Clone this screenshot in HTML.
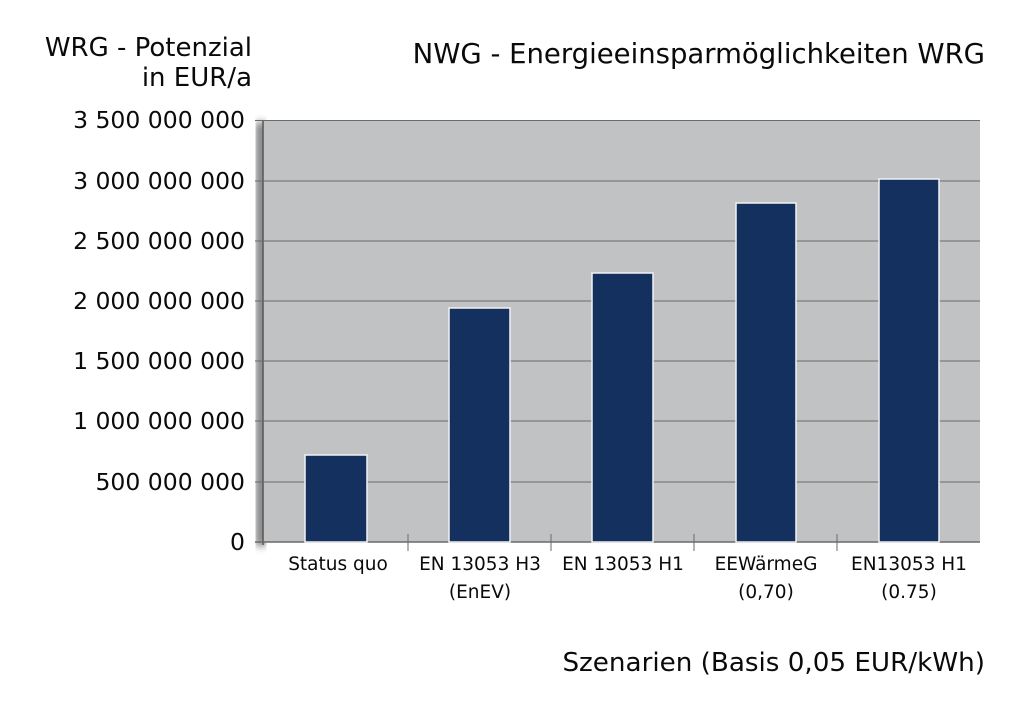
<!DOCTYPE html>
<html><head><meta charset="utf-8"><style>
body{margin:0;background:#fff;}
svg text{font-family:"DejaVu Sans","Liberation Sans",sans-serif;fill:#0a0a0a;}
</style></head><body>
<svg width="1024" height="708" xmlns="http://www.w3.org/2000/svg">
<defs><filter id="sh" x="-5%" y="-5%" width="110%" height="110%"><feGaussianBlur stdDeviation="4"/></filter></defs>
<rect x="256" y="122" width="10" height="424" fill="#777" filter="url(#sh)"/>
<rect x="263" y="120" width="717" height="422" fill="#c1c2c4"/>
<line x1="263" y1="120" x2="263" y2="545" stroke="#555" stroke-width="1.5"/>
<g stroke="#6a6a6a" stroke-width="1">
<line x1="255" y1="120.5" x2="980" y2="120.5"/>
<line x1="255" y1="181" x2="980" y2="181"/>
<line x1="255" y1="241" x2="980" y2="241"/>
<line x1="255" y1="301" x2="980" y2="301"/>
<line x1="255" y1="361" x2="980" y2="361"/>
<line x1="255" y1="421" x2="980" y2="421"/>
<line x1="255" y1="482" x2="980" y2="482"/>
<line x1="255" y1="542" x2="980" y2="542" stroke-width="1.5"/>
<line x1="408" y1="534" x2="408" y2="551"/>
<line x1="551" y1="534" x2="551" y2="551"/>
<line x1="694" y1="534" x2="694" y2="551"/>
<line x1="837" y1="534" x2="837" y2="551"/>
</g>
<g fill="#14305f" stroke="#f2f2f2" stroke-width="1.5">
<rect x="305" y="455" width="62" height="87"/>
<rect x="449" y="308" width="61" height="234"/>
<rect x="592" y="273" width="61" height="269"/>
<rect x="736" y="203" width="60" height="339"/>
<rect x="879" y="179" width="60" height="363"/>
</g>
<g font-size="23.5" text-anchor="end">
<text x="245" y="128">3 500 000 000</text>
<text x="245" y="189">3 000 000 000</text>
<text x="245" y="249">2 500 000 000</text>
<text x="245" y="309">2 000 000 000</text>
<text x="245" y="369">1 500 000 000</text>
<text x="245" y="429">1 000 000 000</text>
<text x="245" y="490">500 000 000</text>
<text x="245" y="550">0</text>
<text x="252" y="56" font-size="26">WRG - Potenzial</text>
<text x="252" y="86" font-size="26">in EUR/a</text>
<text x="985" y="63" font-size="27.5">NWG - Energieeinsparmöglichkeiten WRG</text>
<text x="985" y="671" font-size="26.2">Szenarien (Basis 0,05 EUR/kWh)</text>
</g>
<g font-size="18.5" text-anchor="middle">
<text x="338" y="570">Status quo</text>
<text x="480" y="570">EN 13053 H3</text>
<text x="480" y="598">(EnEV)</text>
<text x="623" y="570">EN 13053 H1</text>
<text x="766" y="570">EEWärmeG</text>
<text x="766" y="598">(0,70)</text>
<text x="909" y="570">EN13053 H1</text>
<text x="909" y="598">(0.75)</text>
</g>
</svg>
</body></html>
